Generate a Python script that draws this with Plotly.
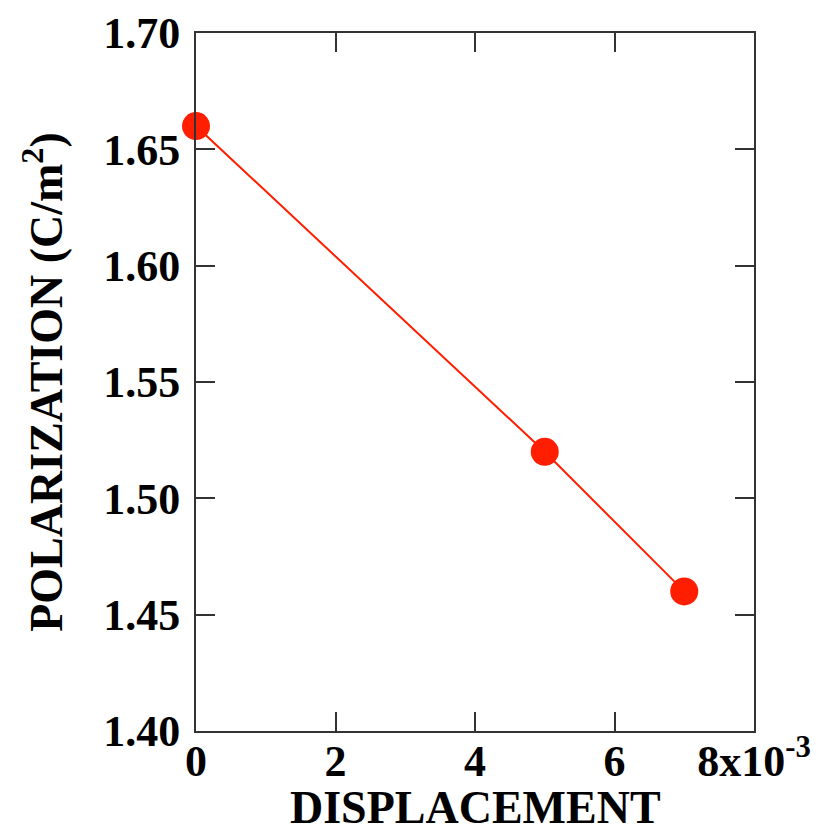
import plotly.graph_objects as go

displacement = [0.0, 0.005, 0.007]
polarization = [1.66, 1.52, 1.46]

x_tickvals = [0, 0.002, 0.004, 0.006, 0.008]
x_ticktext = ["0", "2", "4", "6", "8x10<sup>-3</sup>"]
y_tickvals = [1.40, 1.45, 1.50, 1.55, 1.60, 1.65, 1.70]
y_ticktext = ["1.40", "1.45", "1.50", "1.55", "1.60", "1.65", "1.70"]
x_title = "DISPLACEMENT"
y_title = "POLARIZATION (C/m<sup>2</sup>)"

RED = "#ff1e00"
FAM = "Liberation Serif, Times New Roman, serif"
TICKFONT = dict(family=FAM, size=44, color="black", weight="bold")
TITLEFONT = dict(family=FAM, size=46, color="black", weight="bold")

fig = go.Figure()
fig.add_trace(go.Scatter(
    x=displacement, y=polarization, mode="lines+markers",
    line=dict(color=RED, width=2),
    marker=dict(color=RED, size=28, line=dict(width=0)),
    cliponaxis=False, showlegend=False,
))

axis_common = dict(
    showline=True, linecolor="#333333", linewidth=2, mirror="allticks",
    ticks="inside", ticklen=19, tickwidth=2, tickcolor="#333333",
    showgrid=False, zeroline=False, tickfont=TICKFONT, automargin=False,
)

fig.update_xaxes(
    range=[0, 0.008], tickmode="array", tickvals=x_tickvals, ticktext=x_ticktext,
    ticklabelstandoff=-10,
    **axis_common,
)
fig.update_yaxes(
    range=[1.40, 1.70], tickmode="array", tickvals=y_tickvals, ticktext=y_ticktext,
    title=dict(text=y_title, font=TITLEFONT, standoff=26),
    ticklabelstandoff=5,
    **axis_common,
)

fig.add_annotation(
    text=x_title, font=TITLEFONT, showarrow=False,
    xref="paper", yref="paper", x=0.5, y=0, xanchor="center", yanchor="top",
    yshift=-50, borderpad=0,
)

fig.update_layout(
    width=819, height=836,
    margin=dict(l=196, r=65, t=33, b=105),
    paper_bgcolor="white", plot_bgcolor="white",
    font=TICKFONT,
)

fig.write_html("out.html")
